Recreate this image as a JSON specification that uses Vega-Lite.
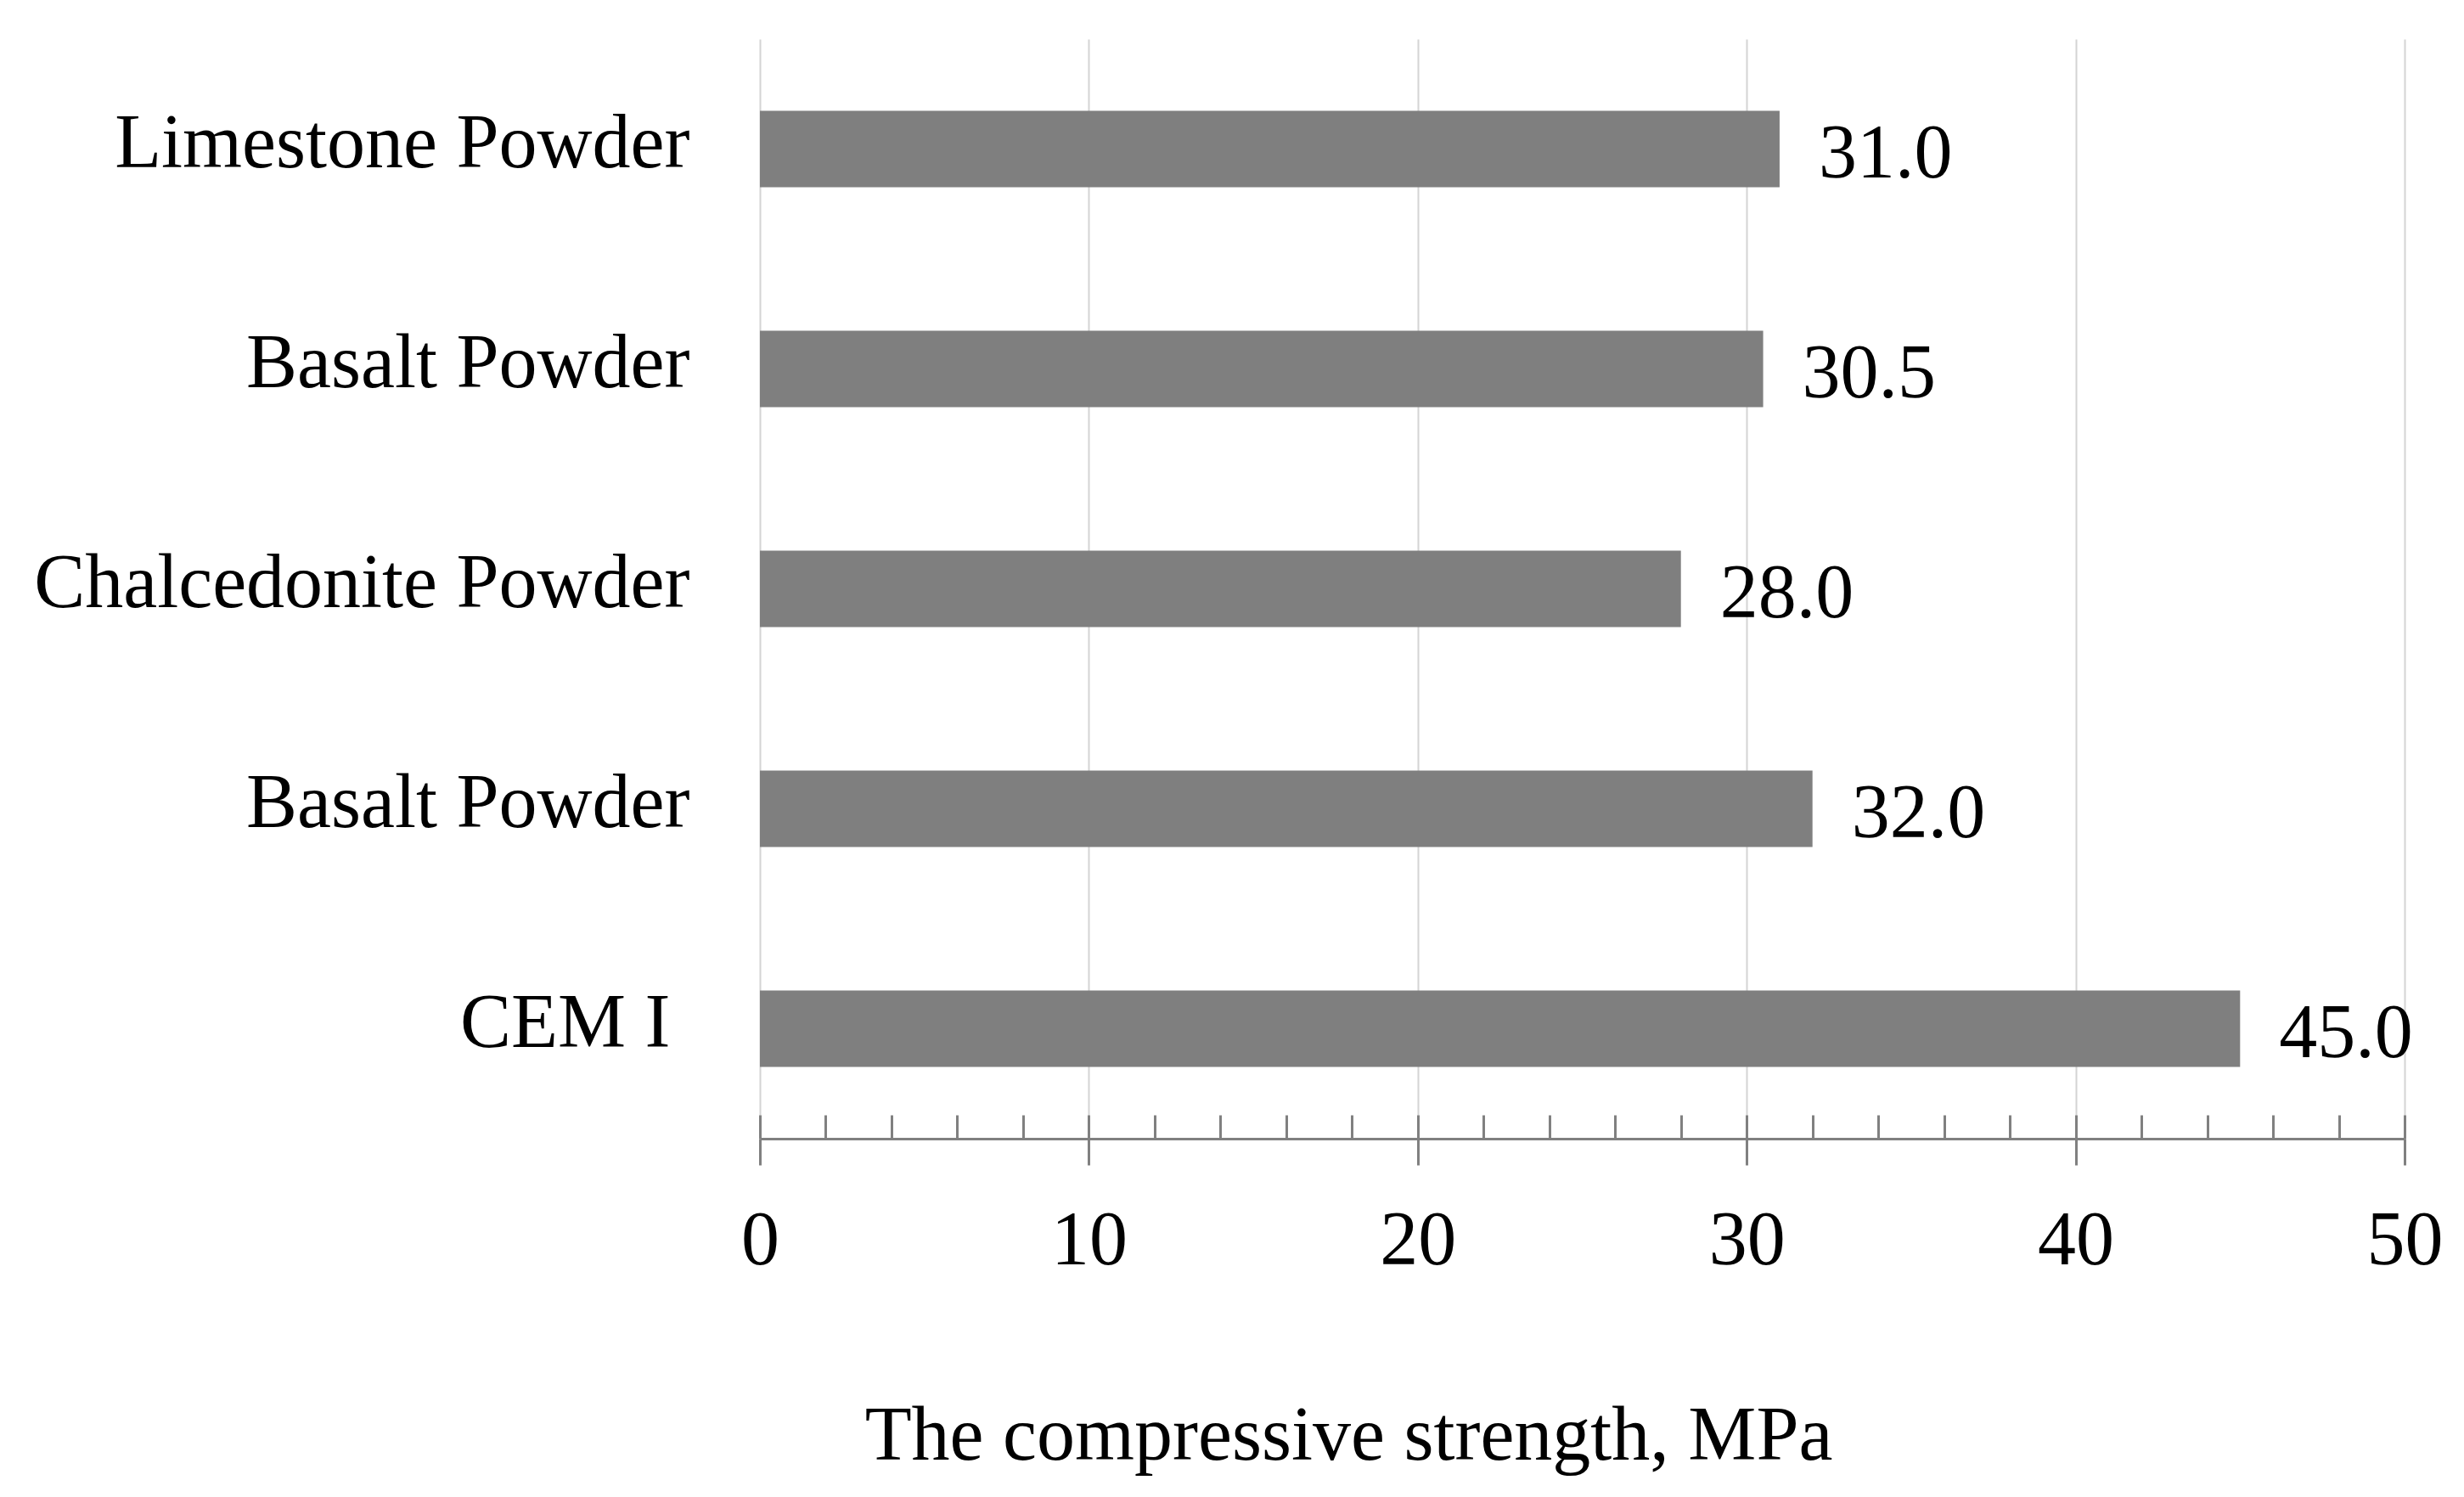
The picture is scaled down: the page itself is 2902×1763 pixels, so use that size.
{
  "$schema": "https://vega.github.io/schema/vega-lite/v6.json",
  "width": 1937,
  "height": 1295,
  "autosize": {"type": "none"},
  "padding": {"left": 895, "top": 46, "right": 70, "bottom": 422},
  "background": "white",
  "config": {
    "view": {"stroke": null},
    "font": "Liberation Serif",
    "text": {"font": "Liberation Serif"}
  },
  "data": {
    "values": [
      {"key": "Limestone Powder|1", "material": "Limestone Powder", "strength": 31.0},
      {"key": "Basalt Powder|2", "material": "Basalt Powder", "strength": 30.5},
      {"key": "Chalcedonite Powder|3", "material": "Chalcedonite Powder", "strength": 28.0},
      {"key": "Basalt Powder|4", "material": "Basalt Powder", "strength": 32.0},
      {"key": "CEM I|5", "material": "CEM I", "strength": 45.0}
    ]
  },
  "encoding": {
    "y": {
      "field": "key",
      "type": "nominal",
      "sort": null,
      "scale": {"paddingInner": 0.653, "paddingOuter": 0.3265},
      "axis": {
        "title": null,
        "domain": false,
        "ticks": false,
        "grid": false,
        "labelExpr": "split(datum.value, '|')[0]",
        "labelFont": "Liberation Serif",
        "labelFontSize": 90,
        "labelColor": "#000000",
        "labelPadding": {"condition": {"test": "datum.value == 'CEM I|5'", "value": 106}, "value": 83},
        "labelBaseline": "alphabetic",
        "labelOffset": 21,
        "labelLimit": 1000
      }
    }
  },
  "layer": [
    {
      "mark": {"type": "bar", "color": "#7f7f7f"},
      "encoding": {
        "x": {
          "field": "strength",
          "type": "quantitative",
          "scale": {"domain": [0, 50], "nice": false, "zero": true},
          "axis": {
            "orient": "bottom",
            "values": [0, 10, 20, 30, 40, 50],
            "grid": true,
            "gridColor": "#d4d4d4",
            "gridWidth": 2,
            "domainColor": "#808080",
            "domainWidth": 3,
            "tickColor": "#808080",
            "tickWidth": 3,
            "tickSize": 31,
            "labelFont": "Liberation Serif",
            "labelFontSize": 90,
            "labelColor": "#000000",
            "labelBaseline": "alphabetic",
            "labelPadding": 116,
            "labelFlush": false,
            "labelOverlap": false,
            "title": "The compressive strength, MPa",
            "titleFont": "Liberation Serif",
            "titleFontSize": 90,
            "titleFontWeight": "normal",
            "titleColor": "#000000",
            "titleAlign": "center",
            "titleBaseline": "alphabetic",
            "titleX": 693,
            "titleY": 377
          }
        }
      }
    },
    {
      "mark": {"type": "text", "align": "left", "baseline": "alphabetic", "dx": 46, "dy": 33, "fontSize": 90, "font": "Liberation Serif", "color": "#000000"},
      "encoding": {
        "x": {
          "field": "strength",
          "type": "quantitative",
          "axis": {
            "orient": "bottom",
            "values": [0, 2, 4, 6, 8, 10, 12, 14, 16, 18, 20, 22, 24, 26, 28, 30, 32, 34, 36, 38, 40, 42, 44, 46, 48, 50],
            "grid": false,
            "domain": false,
            "labels": false,
            "tickColor": "#808080",
            "tickWidth": 3,
            "tickSize": -28,
            "title": null
          }
        },
        "text": {"field": "strength", "type": "quantitative", "format": ".1f"}
      }
    }
  ],
  "resolve": {"axis": {"x": "independent"}}
}
